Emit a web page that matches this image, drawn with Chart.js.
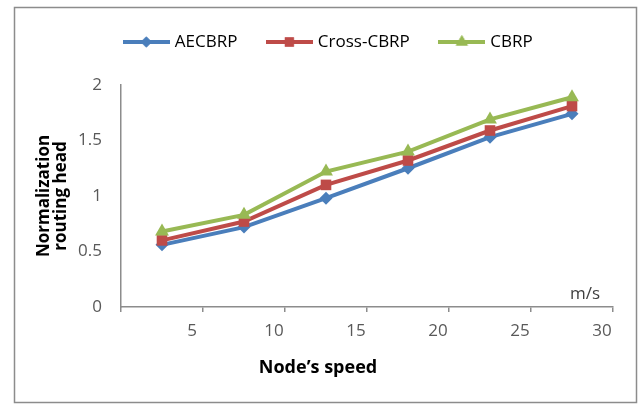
<!DOCTYPE html>
<html>
<head>
<meta charset="utf-8">
<script src="https://cdn.jsdelivr.net/npm/chart.js@4/dist/chart.umd.min.js"></script>
<style>
  html, body { margin: 0; padding: 0; background: #fff; overflow: hidden; }
  .container { position: relative; width: 642px; height: 406px; }
</style>
</head>
<body>
<div class="container"><canvas id="myChart"></canvas></div>
<script>
// node speed (m/s), points sit in the middle of each 5 m/s band
const speeds = [2.5, 7.5, 12.5, 17.5, 22.5, 27.5];
const xTicks = [5, 10, 15, 20, 25, 30];
const yTicks = [0, 0.5, 1, 1.5, 2];

const aecbrp = [0.56, 0.72, 0.98, 1.25, 1.53, 1.74];
const crossCbrp = [0.60, 0.77, 1.10, 1.32, 1.59, 1.81];
const cbrp = [0.68, 0.83, 1.22, 1.40, 1.69, 1.89];

const seriesNames = ["AECBRP", "Cross-CBRP", "CBRP"];
const seriesColors = ["#4A7EBB", "#BE4B48", "#98B954"];
const seriesMarkers = ["rectRot", "rect", "triangle"];
const markerRadius = [6.5, 7.5, 8];

const toPoints = (vals) => vals.map((v, i) => ({ x: speeds[i], y: v }));

// small line + marker picture for the legend
const legendSwatch = (i) => {
  const c = document.createElement("canvas");
  c.width = 47;
  c.height = 18;
  const ctx = c.getContext("2d");
  ctx.strokeStyle = seriesColors[i];
  ctx.lineWidth = 4;
  ctx.beginPath();
  ctx.moveTo(0, 9);
  ctx.lineTo(47, 9);
  ctx.stroke();
  ctx.fillStyle = seriesColors[i];
  Chart.helpers.drawPoint(ctx, { pointStyle: seriesMarkers[i], radius: markerRadius[i] - 1, borderWidth: 0 }, 23.5, 9);
  ctx.fill();
  return c;
};

const extras = {
  id: "extras",
  beforeInit(chart) {
    const fit = chart.legend.fit;
    chart.legend.fit = function () {
      fit.call(this);
      this.height = 83.5;
    };
  },
  beforeDraw(chart) {
    const ctx = chart.ctx;
    ctx.save();
    ctx.strokeStyle = "#8c8c8c";
    ctx.lineWidth = 1.5;
    ctx.strokeRect(14.5, 7.5, 622, 395);
    ctx.restore();
  },
  afterDraw(chart) {
    const ctx = chart.ctx;
    ctx.save();
    ctx.textAlign = "center";
    ctx.textBaseline = "middle";
    ctx.fillStyle = "#404040";
    ctx.font = "17px 'Open Sans'";
    ctx.fillText("m/s", 585, 294);
    ctx.fillStyle = "#000";
    ctx.font = "bold 18px 'Open Sans'";
    ctx.fillText("Node’s speed", 318, 368);
    ctx.restore();
  },
};

const datasets = [aecbrp, crossCbrp, cbrp].map((vals, i) => ({
  label: seriesNames[i],
  data: toPoints(vals),
  borderColor: seriesColors[i],
  backgroundColor: seriesColors[i],
  borderWidth: 4,
  pointStyle: seriesMarkers[i],
  pointRadius: markerRadius[i],
  pointBorderWidth: 0,
  tension: 0,
  order: 3 - i,
}));

const axisColor = "#8c8c8c";

new Chart(document.getElementById("myChart"), {
  type: "line",
  data: { datasets: datasets },
  options: {
    responsive: true,
    maintainAspectRatio: false,
    animation: false,
    layout: { padding: { left: 20, right: 3, top: 1.5, bottom: 0 } },
    scales: {
      x: {
        type: "linear",
        min: 0,
        max: 30,
        afterBuildTicks: (scale) => {
          scale.ticks = [{ value: 0 }].concat(xTicks.map((v) => ({ value: v })));
        },
        afterFit: (scale) => {
          scale.height = 99;
        },
        ticks: {
          callback: (v) => (v === 0 ? "" : v),
          color: "#595959",
          font: { family: "'Open Sans'", size: 17 },
          padding: 9,
          labelOffset: -11,
          maxRotation: 0,
        },
        grid: { drawOnChartArea: false, tickLength: 5, color: axisColor, lineWidth: 1.5 },
        border: { color: axisColor, width: 1.5 },
      },
      y: {
        min: 0,
        max: 2,
        afterBuildTicks: (scale) => {
          scale.ticks = yTicks.map((v) => ({ value: v }));
        },
        afterFit: (scale) => {
          scale.width = 101;
        },
        ticks: {
          callback: (v) => String(v),
          color: "#595959",
          font: { family: "'Open Sans'", size: 17 },
          padding: 19,
        },
        grid: { display: false, drawTicks: false },
        border: { display: true, color: axisColor, width: 1.5 },
        title: {
          display: true,
          text: ["Normalization", "routing head"],
          color: "#000",
          font: { family: "'Open Sans'", size: 17, weight: "bold", lineHeight: 1 },
          padding: { top: 15.5, bottom: 0 },
        },
      },
      yR: {
        position: "right",
        display: true,
        afterFit: (scale) => {
          scale.width = 26;
        },
        ticks: { display: false },
        grid: { display: false, drawTicks: false },
        border: { display: false },
      },
    },
    plugins: {
      legend: {
        position: "top",
        labels: {
          usePointStyle: true,
          pointStyleWidth: 40,
          padding: 32,
          color: "#404040",
          font: { family: "'Open Sans'", size: 17 },
          generateLabels: () =>
            seriesNames.map((name, i) => ({
              text: name,
              pointStyle: legendSwatch(i),
              fillStyle: seriesColors[i],
              strokeStyle: seriesColors[i],
              lineWidth: 0,
              datasetIndex: i,
            })),
        },
      },
      tooltip: { enabled: false },
    },
  },
  plugins: [extras],
});
</script>
</body>
</html>
